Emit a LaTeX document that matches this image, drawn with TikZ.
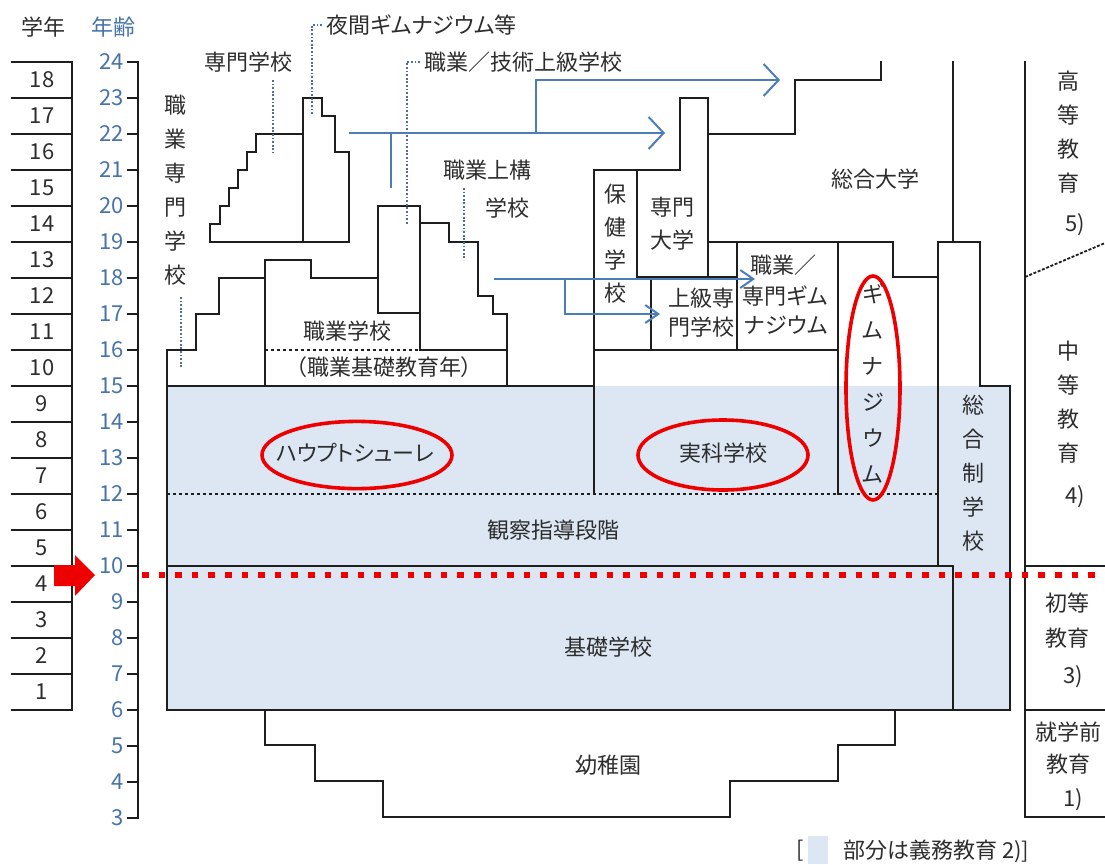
\documentclass[tikz,border=0pt]{standalone}
\usepackage{fontspec}
\setmainfont{Noto Sans CJK JP}[RawFeature=+palt]
\usetikzlibrary{arrows.meta}
\definecolor{txt}{RGB}{45,45,45}
\definecolor{linec}{RGB}{30,30,30}
\definecolor{agec}{RGB}{70,115,170}
\definecolor{leadc}{RGB}{80,110,150}
\definecolor{arrc}{RGB}{75,125,185}
\definecolor{fillb}{RGB}{220,231,243}
\definecolor{redc}{RGB}{238,0,0}
\begin{document}
\begin{tikzpicture}[x=0.5pt,y=-0.5pt,
  every node/.style={font=\fontsize{11}{13}\selectfont, text=txt, inner sep=0pt},
  wall/.style={draw=linec, line width=1.1pt, line join=miter, line cap=rect},
  dotl/.style={draw=linec, line width=1pt, dash pattern=on 1.3pt off 1.7pt},
  lead/.style={draw=leadc, line width=0.9pt, dash pattern=on 0.9pt off 0.9pt},
  bigarr/.style={draw=arrc, line width=1pt, -{Straight Barb[length=7.5pt,width=16pt]}},
  smarr/.style={draw=arrc, line width=1pt, -{Straight Barb[length=6.5pt,width=9pt]}},
  arrline/.style={draw=arrc, line width=1pt},
  redell/.style={draw=redc, line width=1.8pt},
  vtext/.style={align=center, font=\fontsize{11}{17}\selectfont},
]
\useasboundingbox (0,0) rectangle (1105,864);
% light blue compulsory area
\fill[fillb] (167,386) rectangle (1010,710);

% grade column
\foreach \k in {0,...,18} \draw[wall] (12,{62+36*\k}) -- (72,{62+36*\k});
\draw[wall] (72,62) -- (72,710);
\foreach \n in {1,...,18} \node (g\n) at (42,{926-36*(\n+5.5)}) {\n};
\node (hdrg) at (43,27) {学年};
\node[text=agec] (hdra) at (113,27) {年齢};

% age axis
\draw[wall] (138,62) -- (138,818);
\foreach \a in {3,...,24} {
  \draw[wall] (128,{926-36*\a}) -- (138,{926-36*\a});
  \node[text=agec, anchor=east] (a\a) at (124,{926-36*\a}) {\a};
}

% top-left staircase (専門学校 / 夜間ギムナジウム)
\draw[wall] (210,242) -- (210,224) -- (220,224) -- (220,206) -- (229,206) -- (229,188) -- (238,188) -- (238,170) -- (247,170) -- (247,152) -- (256,152) -- (256,134) -- (303,134) -- (303,98) -- (322,98) -- (322,116) -- (335,116) -- (335,152) -- (349,152) -- (349,242) -- cycle;
\draw[wall] (303,134) -- (303,242);

% 職業専門学校 / 職業学校 / 職業上構学校
\draw[wall] (167,566) -- (167,350) -- (196,350) -- (196,314) -- (219,314) -- (219,278) -- (265,278) -- (265,260) -- (311,260) -- (311,278) -- (378,278);
\draw[wall] (265,278) -- (265,386);
\draw[wall] (378,313) -- (378,206) -- (420,206) -- (420,350);
\draw[wall] (378,313) -- (420,313);
\draw[wall] (420,223) -- (449,223) -- (449,242) -- (478,242) -- (478,296) -- (493,296) -- (493,314) -- (507,314) -- (507,386);
\draw[wall] (420,350) -- (507,350);
\draw[dotl] (265,350) -- (420,350);
\draw[wall] (167,386) -- (594,386);

% 保健学校 / 専門大学 / 総合大学
\draw[wall] (594,494) -- (594,170) -- (680,170) -- (680,98) -- (708,98) -- (708,277);
\draw[wall] (708,134) -- (795,134) -- (795,80) -- (881,80) -- (881,62);
\draw[wall] (637,170) -- (637,277) -- (737,277);
\draw[wall] (708,242) -- (893,242) -- (893,277) -- (938,277);
\draw[wall] (651,277) -- (651,350);
\draw[wall] (737,242) -- (737,350);
\draw[wall] (594,350) -- (838,350);
\draw[wall] (838,242) -- (838,494);
\draw[wall] (953,62) -- (953,242);
% 総合制学校
\draw[wall] (938,566) -- (938,242) -- (980,242) -- (980,386) -- (1010,386) -- (1010,710) -- (953,710);
% 観察指導段階 dotted
\draw[dotl] (167,494) -- (938,494);
% 基礎学校
\draw[wall] (167,566) rectangle (953,710);
% 幼稚園
\draw[wall] (265,710) -- (265,745) -- (315,745) -- (315,781) -- (383,781) -- (383,817) -- (730,817) -- (730,781) -- (838,781) -- (838,745) -- (895,745) -- (895,710);

% right column
\draw[wall] (1025,62) -- (1025,817) -- (1105,817);
\draw[wall] (1025,566) -- (1105,566);
\draw[wall] (1025,710) -- (1105,710);
\draw[draw=linec, line width=0.9pt, dash pattern=on 1.5pt off 0.8pt] (1025,277) -- (1105,243);

% leaders
\draw[lead] (273,80) -- (273,153);
\draw[lead] (322,25) -- (312,25) -- (312,115);
\draw[lead] (420,62) -- (407,62) -- (407,225);
\draw[lead] (464,188) -- (464,260);
\draw[lead] (181,297) -- (181,367);

% blue arrows
\coordinate (aS1) at (349,133);
\coordinate (aE1) at (665,133);
\coordinate (aB1) at (391,133);
\coordinate (aB2) at (391,188);
\coordinate (aC1) at (536,133);
\coordinate (aC2) at (536,80);
\coordinate (aE2) at (780,80);
\coordinate (aS3) at (494,279);
\coordinate (aE3) at (755,279);
\coordinate (aD1) at (565,279);
\coordinate (aD2) at (565,314);
\coordinate (aE4) at (660,314);
\draw[bigarr] (aS1) -- (aE1);
\draw[arrline] (aB1) -- (aB2);
\draw[bigarr] (aC1) -- (aC2) -- (aE2);
\draw[smarr] (aS3) -- (aE3);
\draw[smarr] (aD1) -- (aD2) -- (aE4);

% labels
\node (senmon) at (248,62) {専門学校};
\node[anchor=west] (yakan) at (326,25) {夜間ギムナジウム等};
\node[anchor=west] (shokugi) at (424,62) {職業／技術上級学校};
\node[vtext] (shokusen) at (175,190) {職\\業\\専\\門\\学\\校};
\node (jokou1) at (487,170) {職業上構};
\node (jokou2) at (507,208) {学校};
\node (shokugakko) at (347,331) {職業学校};
\node (kisonen) at (384,367) {（職業基礎教育年）};
\node[vtext, font=\fontsize{11}{16.5}\selectfont] (hoken) at (615,244) {保\\健\\学\\校};
\node (sdai1) at (672,207) {専門};
\node (sdai2) at (672,240) {大学};
\node (jks1) at (701,298) {上級専};
\node (jks2) at (701,327) {門学校};
\node (sgym1) at (783,265) {職業／};
\node (sgym2) at (785,296) {専門ギム};
\node (sgym3) at (786,325) {ナジウム};
\node (sogodai) at (875,179) {総合大学};
\node[vtext, font=\fontsize{11}{18}\selectfont] (gym) at (873,383) {ギ\\ム\\ナ\\ジ\\ウ\\ム};
\node[vtext] (sogosei) at (973,473) {総\\合\\制\\学\\校};
\node (haupt) at (355,453) {ハウプトシューレ};
\node (jikka) at (723,453) {実科学校};
\node (kansatsu) at (553,530) {観察指導段階};
\node (kiso) at (608,647) {基礎学校};
\node (yochi) at (608,765) {幼稚園};
\node[vtext] (koto) at (1068,132) {高\\等\\教\\育};
\node (koto5) at (1075,225) {5)};
\node[vtext] (chuto) at (1068,402) {中\\等\\教\\育};
\node (chuto4) at (1075,497) {4)};
\node (sho1) at (1067,603) {初等};
\node (sho2) at (1067,638) {教育};
\node (sho3) at (1073,677) {3)};
\node (shu1) at (1068,732) {就学前};
\node (shu2) at (1068,764) {教育};
\node (shu3) at (1073,800) {1)};

% legend
\node (lbr) at (800,851) {[};
\fill[fillb] (808,836) rectangle (828,864);
\node[anchor=west] (legend) at (843,851) {部分は義務教育 2)]};

% red marks
\draw[redc, line width=3.3pt, dash pattern=on 3.3pt off 5pt] (142,575) -- (1105,575);
\fill[redc] (54,565) -- (75,565) -- (75,555) -- (95,575) -- (75,596) -- (75,586) -- (54,586) -- cycle;
\draw[redell] (357,455) ellipse [x radius=47.5pt, y radius=16.8pt];
\draw[redell] (723,455) ellipse [x radius=42.5pt, y radius=17.5pt];
\draw[redell] (873,388) ellipse [x radius=13.5pt, y radius=56pt];
\end{tikzpicture}
\end{document}
